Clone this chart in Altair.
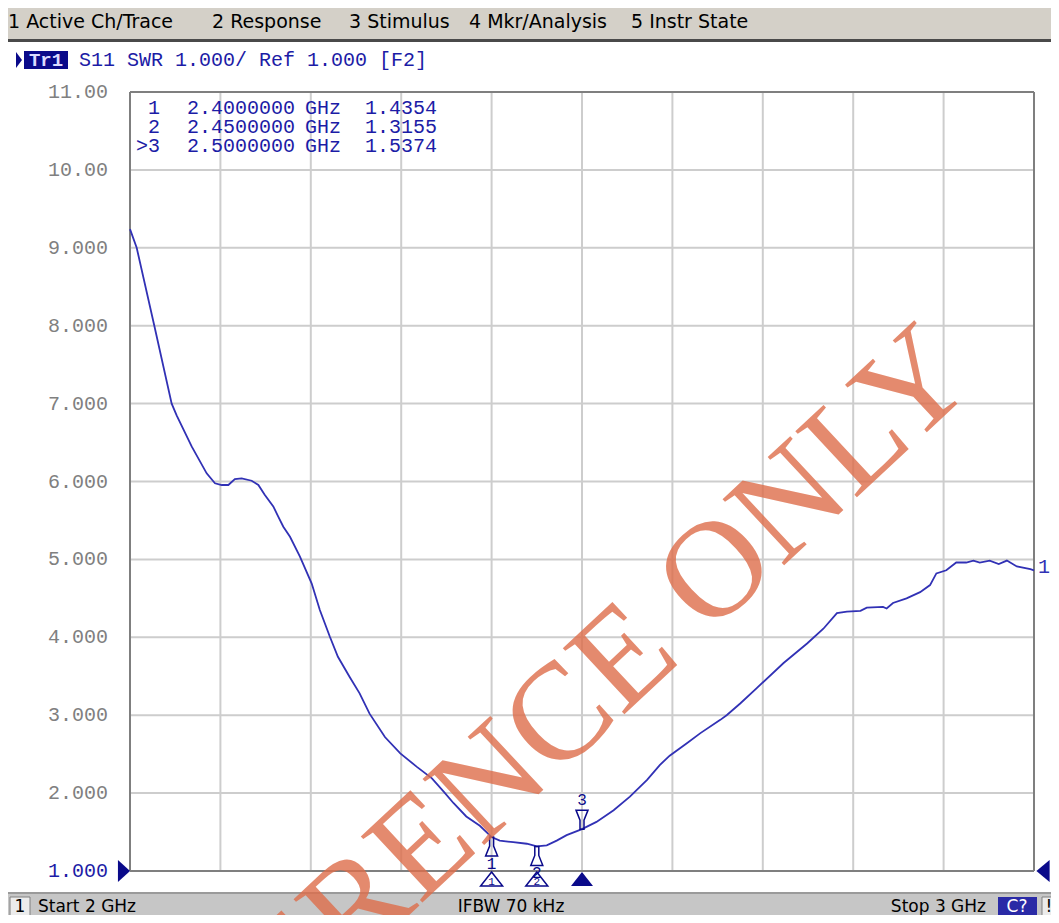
import altair as alt
import pandas as pd

# ---------------- data ----------------
freq_ghz = [2.000, 2.0074, 2.0269, 2.0461, 2.0516, 2.0682, 2.0848, 2.094, 2.1014, 2.1088,
            2.116, 2.1235, 2.1346, 2.142, 2.149, 2.1585, 2.164, 2.1696, 2.177, 2.188,
            2.201, 2.210, 2.221, 2.230, 2.243, 2.254, 2.265, 2.282, 2.299, 2.317,
            2.334, 2.347, 2.358, 2.372, 2.387, 2.400, 2.409, 2.424, 2.439, 2.450,
            2.461, 2.472, 2.483, 2.500, 2.516, 2.535, 2.553, 2.572, 2.586, 2.597,
            2.616, 2.631, 2.653, 2.660, 2.675, 2.693, 2.723, 2.749, 2.767, 2.782,
            2.793, 2.808, 2.815, 2.833, 2.837, 2.844, 2.859, 2.874, 2.885, 2.892,
            2.903, 2.914, 2.925, 2.933, 2.940, 2.951, 2.961, 2.970, 2.981, 2.996, 3.000]
swr = [9.24, 9.00, 8.00, 7.00, 6.85, 6.45, 6.105, 5.977, 5.955, 5.955,
       6.03, 6.04, 6.01, 5.955, 5.83, 5.68, 5.55, 5.42, 5.29, 5.035,
       4.69, 4.35, 4.01, 3.75, 3.49, 3.28, 3.02, 2.72, 2.51, 2.34,
       2.19, 2.02, 1.87, 1.70, 1.58, 1.4354, 1.39, 1.37, 1.35, 1.3155,
       1.33, 1.39, 1.46, 1.5374, 1.63, 1.78, 1.955, 2.17, 2.36, 2.48,
       2.64, 2.77, 2.94, 3.00, 3.15, 3.345, 3.67, 3.92, 4.11, 4.31,
       4.33, 4.34, 4.38, 4.39, 4.37, 4.44, 4.50, 4.58, 4.67, 4.82,
       4.86, 4.96, 4.96, 4.985, 4.96, 4.985, 4.94, 4.985, 4.91, 4.875, 4.86]

marker_ids = [1, 2, 3]
marker_freq = [2.40, 2.45, 2.50]
marker_swr = [1.4354, 1.3155, 1.5374]
active_marker = 3

y_ticks = [11, 10, 9, 8, 7, 6, 5, 4, 3, 2, 1]
x_grid = [2.1, 2.2, 2.3, 2.4, 2.5, 2.6, 2.7, 2.8, 2.9]
y_grid = [2, 3, 4, 5, 6, 7, 8, 9, 10]
x_frame = [2.0, 3.0]
y_frame = [1.0, 11.0]
ref_level = [1.0]

menu_items = ["1 Active Ch/Trace", "2 Response", "3 Stimulus", "4 Mkr/Analysis", "5 Instr State"]
header_text = "S11 SWR 1.000/ Ref 1.000 [F2]"
start_text = "Start 2 GHz"
ifbw_text = "IFBW 70 kHz"
stop_text = "Stop 3 GHz"
watermark = "REFERENCE ONLY"

# ---------------- style ----------------
W, H = 904, 779
TRACE = "#3131b5"
BLUE = "#1c1ca6"
NAVY = "#0a0a8a"
GRID = "#cdcdcd"
FRAME = "#7f7f7f"
LGRAY = "#808080"
MONO = "Liberation Mono"
SANS = "DejaVu Sans"

XS = alt.Scale(domain=[2.0, 3.0], nice=False, zero=False)
YS = alt.Scale(domain=[1.0, 11.0], nice=False, zero=False)


def X(f):
    return alt.X(f, type="quantitative", scale=XS, axis=None)


def Y(f):
    return alt.Y(f, type="quantitative", scale=YS, axis=None)


one = pd.DataFrame({"k": [0]})


def box(x1, x2, y1, y2, fill, stroke=None):
    kw = dict(fill=fill)
    if stroke:
        kw.update(stroke=stroke, strokeWidth=1)
    return alt.Chart(one).mark_rect(**kw).encode(
        x=alt.value(x1), x2=alt.value(x2), y=alt.value(y1), y2=alt.value(y2))


def label(txt, x, y, size, color, font, align="left", weight="normal"):
    return alt.Chart(one).mark_text(text=txt, font=font, fontSize=size, color=color,
                                    align=align, baseline="middle", fontWeight=weight).encode(
        x=alt.value(x), y=alt.value(y))


trace_df = pd.DataFrame({"f": freq_ghz, "swr": swr})
mk_df = pd.DataFrame({"id": marker_ids, "f": marker_freq, "v": marker_swr,
                      "num": [str(i) for i in marker_ids],
                      "active": [i == active_marker for i in marker_ids]})
ytick_df = pd.DataFrame({"v": y_ticks,
                         "lab": [f"{v:.2f}" if v >= 10 else f"{v:.3f}" for v in y_ticks]})

layers = []
# screen chrome
layers.append(box(-122, 925, -50, 800, "#ffffff"))
layers.append(box(-122, 925, -53, -50, "#4a4a4a"))
layers.append(box(-122, 925, 800, 831, "#c6c6c6"))
layers.append(box(-122, 925, 800, 802, "#9a9a9a"))
layers.append(box(-120, -100, 805, 831, "#ececec", "#808080"))
layers.append(box(868, 907, 805, 831, "#2a2aa6"))
layers.append(box(912, 926, 805, 831, "#ececec", "#808080"))

# grid
layers.append(alt.Chart(pd.DataFrame({"g": x_grid})).mark_rule(color=GRID, strokeWidth=2).encode(x=X("g")))
layers.append(alt.Chart(pd.DataFrame({"g": y_grid})).mark_rule(color=GRID, strokeWidth=2).encode(y=Y("g")))
layers.append(alt.Chart(pd.DataFrame({"g": x_frame})).mark_rule(color=FRAME, strokeWidth=2).encode(x=X("g")))
layers.append(alt.Chart(pd.DataFrame({"g": y_frame})).mark_rule(color=FRAME, strokeWidth=2).encode(y=Y("g")))

# trace
layers.append(alt.Chart(trace_df).mark_line(color=TRACE, strokeWidth=1.8).encode(x=X("f"), y=Y("swr")))
layers.append(alt.Chart(trace_df.tail(1)).mark_text(text="1", font=MONO, fontSize=20, color=TRACE,
                                                    align="left", baseline="middle", dx=4, dy=-3)
              .encode(x=X("f"), y=Y("swr")))

# markers on trace
PIN_BELOW = "M-0.2,-1L0.2,-1L0.2,-0.1L0.6,0.9L-0.6,0.9L-0.2,-0.1Z"
PIN_ABOVE = "M-0.6,-0.9L0.6,-0.9L0.2,0.1L0.2,1L-0.2,1L-0.2,0.1Z"
inactive = alt.Chart(mk_df).transform_filter("!datum.active")
active = alt.Chart(mk_df).transform_filter("datum.active")
layers.append(inactive.mark_point(shape=PIN_BELOW, size=400, filled=False, stroke=NAVY,
                                  strokeWidth=1.5, yOffset=10, opacity=1).encode(x=X("f"), y=Y("v")))
layers.append(inactive.mark_text(font=MONO, fontSize=16, color=NAVY, dy=27, baseline="middle")
              .encode(x=X("f"), y=Y("v"), text="num:N"))
layers.append(active.mark_point(shape=PIN_ABOVE, size=400, filled=False, stroke=NAVY,
                                strokeWidth=1.5, yOffset=-10, opacity=1).encode(x=X("f"), y=Y("v")))
layers.append(active.mark_text(font=MONO, fontSize=16, color=NAVY, dy=-29, baseline="middle")
              .encode(x=X("f"), y=Y("v"), text="num:N"))

# markers on the stimulus axis
TRI_UP = "M0,-0.64L1,0.64L-1,0.64Z"
layers.append(inactive.mark_point(shape=TRI_UP, size=484, filled=False, stroke=NAVY,
                                  strokeWidth=1.5, opacity=1).encode(x=X("f"), y=alt.value(787)))
layers.append(inactive.mark_text(font=MONO, fontSize=11, color=NAVY, baseline="middle")
              .encode(x=X("f"), y=alt.value(790), text="num:N"))
layers.append(active.mark_point(shape=TRI_UP, size=484, filled=True, fill=NAVY, opacity=1)
              .encode(x=X("f"), y=alt.value(787)))

# reference level triangles
ref_df = pd.DataFrame({"v": ref_level})
layers.append(alt.Chart(ref_df).mark_point(shape="M-0.55,-1L0.55,0L-0.55,1Z", size=484, filled=True,
                                           fill=NAVY, opacity=1).encode(x=alt.value(-6), y=Y("v")))
layers.append(alt.Chart(ref_df).mark_point(shape="M0.6,-1L-0.6,0L0.6,1Z", size=484, filled=True,
                                           fill=NAVY, opacity=1).encode(x=alt.value(913), y=Y("v")))

# y labels
layers.append(alt.Chart(ytick_df).mark_text(font=MONO, fontSize=20, align="right", baseline="middle")
              .encode(x=alt.value(-22), y=Y("v"), text="lab:N",
                      color=alt.condition("datum.v == 1", alt.value(BLUE), alt.value(LGRAY))))

# marker table (one text mark per column and row)
for row, (mid, f, v) in enumerate(zip(marker_ids, marker_freq, marker_swr)):
    yy = 16 + 19 * row
    lab = (">" if mid == active_marker else "") + str(mid)
    layers.append(label(lab, 30, yy, 20, BLUE, MONO, align="right"))
    layers.append(label(f"{f:.7f}", 57, yy, 20, BLUE, MONO))
    layers.append(label("GHz", 175, yy, 20, BLUE, MONO))
    layers.append(label(f"{v:.4f}", 235, yy, 20, BLUE, MONO))

# header
layers.append(alt.Chart(one).mark_point(shape="M-0.375,-1L0.375,0L-0.375,1Z", size=256, filled=True,
                                        fill=NAVY, opacity=1).encode(x=alt.value(-111), y=alt.value(-32)))
layers.append(box(-106, -62, -41, -23, NAVY))
layers.append(label("Tr1", -84, -32, 19, "#dcdcff", MONO, align="center", weight="bold"))
layers.append(label(header_text, -51, -32, 20, BLUE, MONO))

# menu
for txt, x in zip(menu_items, [-122, 82, 219, 339, 501]):
    layers.append(label(txt, x, -70, 19, "#000000", SANS))

# status bar
SY = 815
layers.append(label("1", -110, SY, 17, "#000000", SANS, align="center"))
layers.append(label(start_text, -92, SY, 17, "#000000", SANS))
layers.append(label(ifbw_text, 381, SY, 17, "#000000", SANS, align="center"))
layers.append(label(stop_text, 856, SY, 17, "#000000", SANS, align="right"))
layers.append(label("C?", 887, SY, 17, "#ffffff", SANS, align="center"))
layers.append(label("!", 919, SY, 17, "#000000", SANS, align="center"))

# watermark
layers.append(alt.Chart(one).mark_text(text=watermark, font="Liberation Serif", fontSize=138,
                                       color="#de6e4b", opacity=0.8, angle=317,
                                       align="center", baseline="middle")
              .encode(x=alt.value(384), y=alt.value(669)))

chart = alt.layer(*layers).properties(
    width=W, height=H,
    autosize=alt.AutoSizeParams(type="none"),
    padding={"left": 122, "top": 84, "right": 17, "bottom": 44},
    background="#d4d0c8",
).configure_view(strokeWidth=0)

chart.save("out.html", embed_options={"renderer": "svg", "actions": False})
